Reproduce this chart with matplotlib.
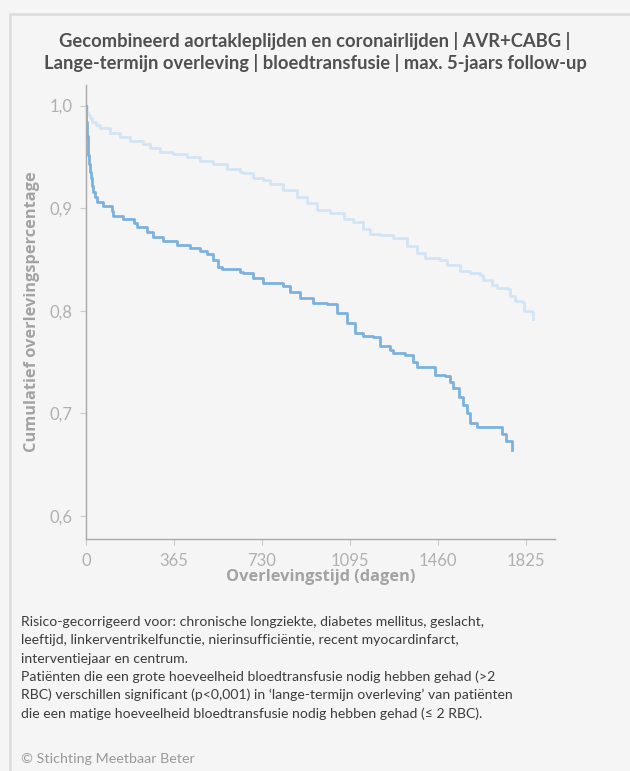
import matplotlib
matplotlib.use("Agg")
import matplotlib.pyplot as plt
from matplotlib.patches import Rectangle

# Kaplan-Meier overleving, >2 RBC (donkerblauw)
dagen_hoog = [0, 1, 2, 3, 5, 7, 10, 13, 16, 19, 24, 30, 37, 44, 72, 107, 113, 155, 197,
              210, 252, 279, 321, 376, 431, 473, 500, 528, 549, 563, 639, 653, 694, 736,
              818, 846, 888, 943, 998, 1040, 1081, 1116, 1150, 1192, 1220, 1261, 1275,
              1324, 1358, 1372, 1434, 1448, 1489, 1510, 1524, 1545, 1565, 1582, 1593,
              1621, 1717, 1724, 1742, 1768]
overleving_hoog = [1.0, 0.990, 0.984, 0.978, 0.970, 0.962, 0.952, 0.943, 0.935, 0.929,
                   0.922, 0.916, 0.911, 0.9065, 0.902, 0.897, 0.892, 0.8896, 0.8854,
                   0.882, 0.877, 0.872, 0.868, 0.864, 0.861, 0.8584, 0.855, 0.850, 0.843,
                   0.8408, 0.838, 0.8367, 0.8324, 0.827, 0.8246, 0.818, 0.8123, 0.8074,
                   0.8064, 0.7977, 0.788, 0.7788, 0.7755, 0.7742, 0.766, 0.762, 0.7587,
                   0.757, 0.7505, 0.7456, 0.7456, 0.7375, 0.736, 0.731, 0.7245, 0.7164,
                   0.708, 0.700, 0.691, 0.6872, 0.6866, 0.680, 0.6735, 0.6644]

# Kaplan-Meier overleving, <=2 RBC (lichtblauw)
dagen_laag = [0, 3, 6, 10, 17, 24, 40, 58, 100, 141, 183, 238, 265, 307, 362, 418, 473,
              528, 584, 639, 653, 694, 736, 763, 818, 874, 915, 957, 1012, 1068, 1109,
              1150, 1178, 1220, 1275, 1330, 1372, 1406, 1468, 1496, 1551, 1593, 1634,
              1648, 1683, 1703, 1752, 1759, 1780, 1808, 1815, 1849, 1852]
overleving_laag = [1.0, 0.996, 0.994, 0.991, 0.988, 0.9844, 0.981, 0.978, 0.973, 0.969,
                   0.966, 0.9624, 0.9585, 0.955, 0.9526, 0.9497, 0.946, 0.943, 0.938,
                   0.935, 0.934, 0.929, 0.9276, 0.9237, 0.918, 0.911, 0.9055, 0.898,
                   0.895, 0.8896, 0.887, 0.8795, 0.875, 0.874, 0.871, 0.8633, 0.856,
                   0.851, 0.850, 0.8447, 0.839, 0.8367, 0.835, 0.830, 0.8253, 0.822,
                   0.8214, 0.8146, 0.810, 0.809, 0.800, 0.799, 0.792]

x_ticks = [0, 365, 730, 1095, 1460, 1825]
y_ticks = [0.6, 0.7, 0.8, 0.9, 1.0]
y_labels = ["0,6", "0,7", "0,8", "0,9", "1,0"]

titel = ("Gecombineerd aortakleplijden en coronairlijden | AVR+CABG |\n"
         "Lange-termijn overleving | bloedtransfusie | max. 5-jaars follow-up")
toelichting = [
    "Risico-gecorrigeerd voor: chronische longziekte, diabetes mellitus, geslacht,",
    "leeftijd, linkerventrikelfunctie, nierinsufficiëntie, recent myocardinfarct,",
    "interventiejaar en centrum.",
    "Patiënten die een grote hoeveelheid bloedtransfusie nodig hebben gehad (>2",
    "RBC) verschillen significant (p<0,001) in ‘lange-termijn overleving’ van patiënten",
    "die een matige hoeveelheid bloedtransfusie nodig hebben gehad (≤ 2 RBC).",
]

bg = "#f5f5f5"
fig = plt.figure(figsize=(6.3, 7.71), dpi=100, facecolor=bg)

# paneelrand links en boven
fig.patches.append(Rectangle((10 / 630, -0.01), 1.0, (771 - 14) / 771 + 0.01,
                             transform=fig.transFigure, facecolor=bg,
                             edgecolor="#dcdcdc", linewidth=1.8, zorder=-5))

fig.text(0.5, 1 - 52 / 771, titel, ha="center", va="center", fontsize=13.2,
         fontweight="bold", color="#505050", family="Lato", linespacing=1.25)

ax = fig.add_axes([86 / 630, 1 - 539 / 771, (555 - 86) / 630, (539 - 85) / 771])
ax.set_facecolor(bg)

ax.plot(dagen_laag, overleving_laag, drawstyle="steps-post", color="#d3e5f5", lw=2.0)
ax.plot(dagen_hoog, overleving_hoog, drawstyle="steps-post", color="#7cb1de", lw=2.0)

ax.set_xlim(0, 1945)
ax.set_ylim(0.5776, 1.0201)
ax.set_xticks(x_ticks)
ax.set_xticklabels([str(t) for t in x_ticks])
ax.set_yticks(y_ticks)
ax.set_yticklabels(y_labels)

for s in ["top", "right"]:
    ax.spines[s].set_visible(False)
for s in ["left", "bottom"]:
    ax.spines[s].set_color("#a8a8a8")
    ax.spines[s].set_linewidth(1.0)
ax.tick_params(direction="out", length=4, width=0.8, color="#cccccc",
               labelcolor="#b0b0b0", labelsize=12, pad=6)
for lab in ax.get_xticklabels() + ax.get_yticklabels():
    lab.set_family("Lato")

ax.set_xlabel("Overlevingstijd (dagen)", fontsize=11.8, fontweight="bold",
              color="#a3a3a3", family="Open Sans", va="center")
ax.set_ylabel("Cumulatief overlevingspercentage", fontsize=11.8, fontweight="bold",
              color="#a3a3a3", family="Open Sans", va="center")
ax.xaxis.set_label_coords(0.5, (539 - 577) / 454)
ax.yaxis.set_label_coords((32 - 86) / 469, 0.5)

y = 1 - 622 / 771
for regel in toelichting:
    fig.text(21 / 630, y, regel, ha="left", va="center", fontsize=10.1,
             color="#3c3c3c", family="Lato")
    y -= 18.3 / 771

fig.text(21 / 630, 1 - 759 / 771, "© Stichting Meetbaar Beter", ha="left",
         va="center", fontsize=10.3, color="#999999", family="Lato")

fig.savefig("out.png", dpi=100, facecolor=bg)
